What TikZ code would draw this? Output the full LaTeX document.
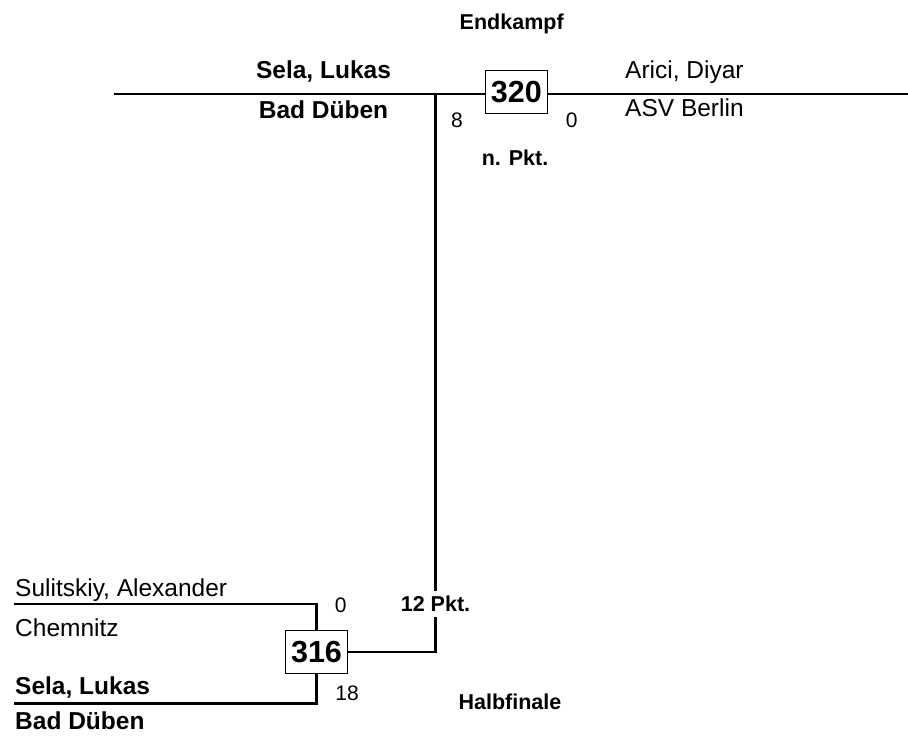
\documentclass[tikz,border=0pt]{standalone}
\usepackage{fontspec}
\setmainfont{Liberation Sans}
\begin{document}
\begin{tikzpicture}[x=1bp,y=-1bp,
  conn/.style={line width=2.8bp, line cap=rect},
  numbox/.style={draw, line width=1.2bp, fill=white, minimum width=62bp, minimum height=43bp, inner sep=0pt, font=\fontsize{30.5bp}{32bp}\selectfont\bfseries},
  pname/.style={inner sep=0pt, font=\fontsize{24.5bp}{26bp}\selectfont},
  bpname/.style={inner sep=0pt, font=\fontsize{24.5bp}{26bp}\selectfont\bfseries},
  small/.style={inner sep=0pt, font=\fontsize{21bp}{23bp}\selectfont},
  bsmall/.style={inner sep=0pt, font=\fontsize{21.5bp}{23bp}\selectfont\bfseries}]
\useasboundingbox (0,0) rectangle (908,738);
% coordinates
\coordinate (tl) at (115,94);
\coordinate (tr) at (910,94);
\coordinate (vtop) at (435.5,94);
\coordinate (g1) at (435.5,590);
\coordinate (g2) at (435.5,618.3);
\coordinate (s1) at (15,604);
\coordinate (s2) at (15,703.5);
% connectors (drawn under boxes)
\draw[conn] (tl) -- (tr);
\draw[conn] (vtop) -- (g1);
\node[numbox] (b320) at (516.3,91.7) {320};
\node[numbox] (b316) at (316.5,652) {316};
\draw[conn] (g2) |- (b316.east);
\draw[conn] (s1) -| (b316.north);
\draw[conn] (s2) -| (b316.south);
% texts
\node[bsmall, anchor=base] (endk) at (511.7,30) {Endkampf};
\node[bpname, anchor=base] (w1) at (323.5,78.3) {Sela, Lukas};
\node[bpname, anchor=base] (w1c) at (323.5,118.3) {Bad Düben};
\node[pname, anchor=base west] (o1) at (625,78.3) {Arici, Diyar};
\node[pname, anchor=base west] (o1c) at (625,116.7) {ASV Berlin};
\node[small, anchor=base] (sc8) at (457,127.5) {8};
\node[small, anchor=base] (sc0) at (571.7,127.5) {0};
\node[bsmall, anchor=base] (npkt) at (515,165) {n. Pkt.};
\node[pname, anchor=base west] (p1) at (15,596.7) {Sulitskiy, Alexander};
\node[pname, anchor=base west] (p1c) at (15,636.7) {Chemnitz};
\node[bpname, anchor=base west] (p2) at (15,694) {Sela, Lukas};
\node[bpname, anchor=base west] (p2c) at (15,729) {Bad Düben};
\node[small, anchor=base] (sa0) at (340.7,612.5) {0};
\node[small, anchor=base] (sa18) at (347,700.7) {18};
\node[bsmall, anchor=base] (p12) at (435.5,611.7) {12 Pkt.};
\node[bsmall, anchor=base] (halb) at (510,709.3) {Halbfinale};
\end{tikzpicture}
\end{document}
